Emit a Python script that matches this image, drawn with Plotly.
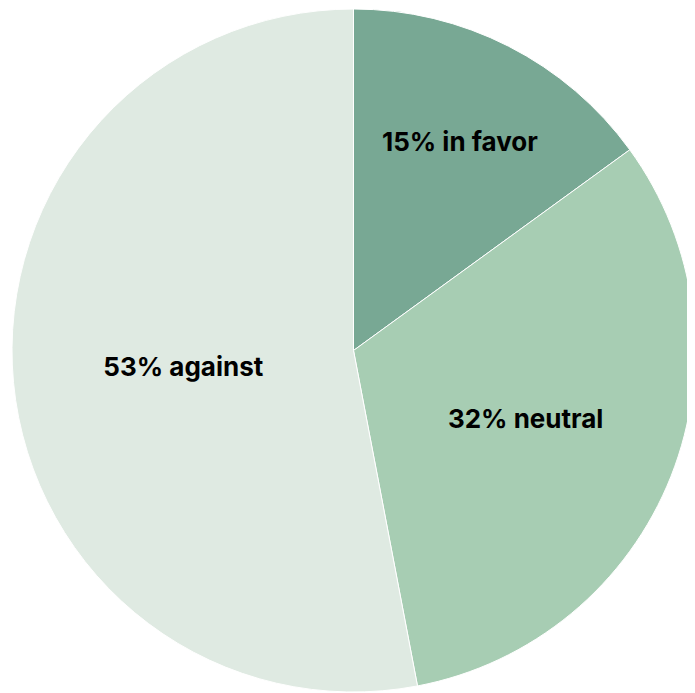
import plotly.graph_objects as go

labels = ["in favor", "neutral", "against"]
values = [15, 32, 53]
colors = ["#78a894", "#a7cdb3", "#dfeae2"]

fig = go.Figure(go.Pie(
    labels=labels,
    values=values,
    sort=False,
    direction="clockwise",
    rotation=0,
    marker=dict(colors=colors, line=dict(color="white", width=1)),
    texttemplate="<b>%{percent:.0%} %{label}</b>",
    textposition="inside",
    insidetextorientation="horizontal",
    textfont=dict(family="Inter", size=26, color="black"),
    hoverinfo="label+percent",
    showlegend=False,
))
fig.update_layout(
    width=687, height=685,
    margin=dict(l=4, r=0, t=0, b=0),
    paper_bgcolor="white",
)
fig.write_html("out.html")
